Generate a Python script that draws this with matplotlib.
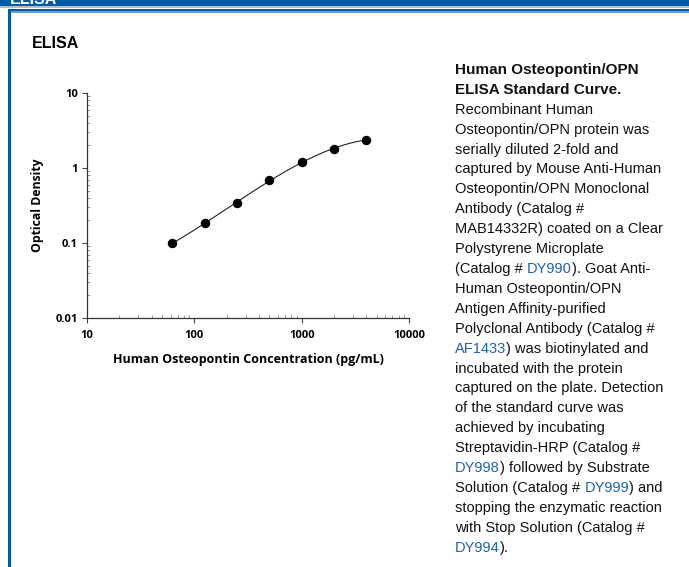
import numpy as np
import matplotlib.pyplot as plt
from matplotlib.patches import Rectangle

# Standard curve data
concentration = [62.5, 125, 250, 500, 1000, 2000, 4000]
optical_density = [0.099, 0.185, 0.341, 0.692, 1.19, 1.79, 2.39]

x_ticks = [10, 100, 1000, 10000]
x_tick_labels = ['10', '100', '1000', '10000']
y_ticks = [0.01, 0.1, 1, 10]
y_tick_labels = ['0.01', '0.1', '1', '10']

# Caption lines, each a list of (text, is_link) pieces
caption_bold = ['Human Osteopontin/OPN', 'ELISA Standard Curve.']
caption_lines = [
    [('Recombinant Human', False)],
    [('Osteopontin/OPN protein was', False)],
    [('serially diluted 2-fold and', False)],
    [('captured by Mouse Anti-Human', False)],
    [('Osteopontin/OPN Monoclonal', False)],
    [('Antibody (Catalog #', False)],
    [('MAB14332R) coated on a Clear', False)],
    [('Polystyrene Microplate', False)],
    [('(Catalog # ', False), ('DY990', True), ('). Goat Anti-', False)],
    [('Human Osteopontin/OPN', False)],
    [('Antigen Affinity-purified', False)],
    [('Polyclonal Antibody (Catalog #', False)],
    [('AF1433', True), (') was biotinylated and', False)],
    [('incubated with the protein', False)],
    [('captured on the plate. Detection', False)],
    [('of the standard curve was', False)],
    [('achieved by incubating', False)],
    [('Streptavidin-HRP (Catalog #', False)],
    [('DY998', True), (') followed by Substrate', False)],
    [('Solution (Catalog # ', False), ('DY999', True), (') and', False)],
    [('stopping the enzymatic reaction', False)],
    [('with Stop Solution (Catalog #', False)],
    [('DY994', True), (').', False)],
]

W, H = 689, 567
blue = '#005ca6'
link_blue = '#1d62ab'

fig = plt.figure(figsize=(W / 100, H / 100), dpi=100)


def fx(px):
    return px / W


def fy(py):
    return 1 - py / H


def rect(x0, y0, x1, y1, color):
    fig.patches.append(Rectangle((fx(x0), fy(y1)), fx(x1) - fx(x0), fy(y0) - fy(y1),
                                 transform=fig.transFigure, color=color, lw=0, zorder=0))


# page frame (top bar and left border)
rect(0, 0, W, 6, blue)
rect(0, 6, W, 8, '#bcbcbc')
rect(8, 9, W, 11, blue)
rect(10, 11, W, 12.5, '#6e9cc8')
rect(8, 9, 10.5, H, blue)
# header text of the page, cut by the top edge as in the screenshot
fig.text(fx(10), fy(4), 'ELISA', color='white', fontsize=11.5, fontweight='bold',
         family='Liberation Sans', va='baseline')

fig.text(fx(32), fy(48), 'ELISA', fontsize=11.5, fontweight='bold',
         family='Liberation Sans', va='baseline')

# chart
ax = fig.add_axes([fx(87), fy(318), fx(409) - fx(87), fy(93) - fy(318)])

# smooth curve through the points: cubic fit in log-log space
lx = np.log10(concentration)
ly = np.log10(optical_density)
coeffs = np.polyfit(lx, ly, deg=3)
x_fit = np.linspace(lx.min(), lx.max(), 200)
ax.plot(10 ** x_fit, 10 ** np.polyval(coeffs, x_fit), color='#222222', lw=0.8)
ax.plot(concentration, optical_density, 'o', color='black', markersize=5.8)

ax.set_xscale('log')
ax.set_yscale('log')
ax.set_xlim(10, 10000)
ax.set_ylim(0.01, 10)
ax.set_xticks(x_ticks)
ax.set_xticklabels(x_tick_labels)
ax.set_yticks(y_ticks)
ax.set_yticklabels(y_tick_labels)
for lab in ax.get_xticklabels() + ax.get_yticklabels():
    lab.set_fontfamily('Open Sans')
    lab.set_fontweight('bold')
    lab.set_fontsize(8)
ax.tick_params(which='major', direction='out', length=3.5, width=0.8, color='#444444', pad=3)
ax.tick_params(which='minor', direction='in', length=2.5, width=0.6, color='#888888')
ax.tick_params(axis='x', which='major', pad=5)
for s in ['top', 'right']:
    ax.spines[s].set_visible(False)
for s in ['left', 'bottom']:
    ax.spines[s].set_linewidth(0.9)
    ax.spines[s].set_color('#333333')

ax.set_xlabel('Human Osteopontin Concentration (pg/mL)', fontfamily='Open Sans',
              fontweight='bold', fontsize=9, labelpad=9)
ax.set_ylabel('Optical Density', fontfamily='Open Sans', fontweight='bold',
              fontsize=8.8, labelpad=8)

# caption on the right
x0 = 455
base = 74
step = 19.9
for i, line in enumerate(caption_bold):
    fig.text(fx(x0), fy(base + i * step), line, fontsize=11, fontweight='bold',
             family='Liberation Sans', va='baseline', color='#111111')

fig.canvas.draw()
renderer = fig.canvas.get_renderer()
for j, pieces in enumerate(caption_lines):
    y = fy(base + (j + 2) * step)
    xpos = x0
    for txt, is_link in pieces:
        t = fig.text(fx(xpos), y, txt, fontsize=10.5, family='Liberation Sans',
                     va='baseline', color=link_blue if is_link else '#111111')
        bb = t.get_window_extent(renderer=renderer)
        xpos += bb.width

fig.savefig('out.png', dpi=100)
